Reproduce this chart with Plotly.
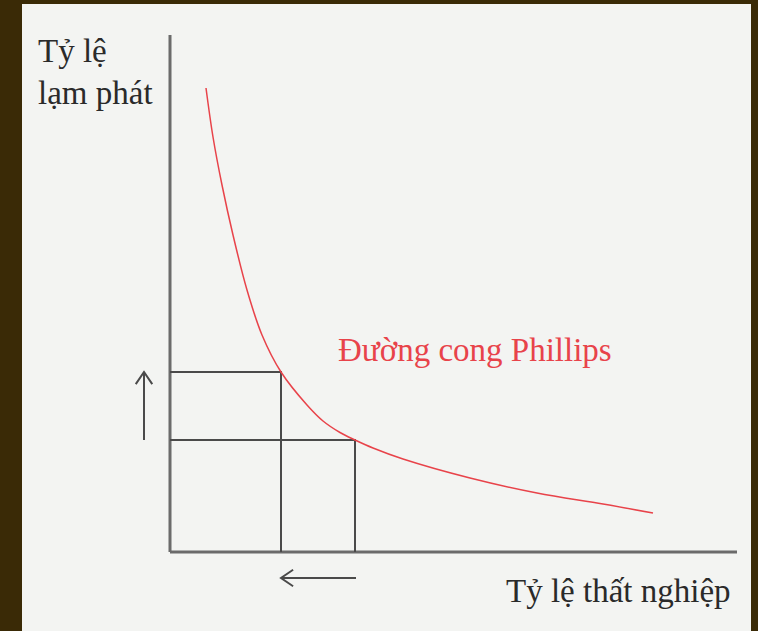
import plotly.graph_objects as go

# Phillips curve points (unemployment, inflation)
unemp = [0.72, 0.86, 1.04, 1.26, 1.54, 1.84, 2.22, 2.74, 3.06, 3.40, 3.70, 4.06, 4.66, 6.00, 7.34, 8.66, 9.66]
inflation = [9.28, 8.30, 7.34, 6.34, 5.24, 4.34, 3.60, 2.94, 2.62, 2.39, 2.24, 2.08, 1.86, 1.48, 1.18, 0.96, 0.78]

# the two marked points on the curve
mark_x = [2.22, 3.70]
mark_y = [3.60, 2.24]

# axis extents
x_axis_end = 11.34
y_axis_end = 10.34

# arrows: (start, end) of each shaft
up_arrow = dict(x=-0.52, y0=2.24, y1=3.60)
left_arrow = dict(y=-0.52, x0=3.72, x1=2.22)

axis_col = "#6b6b6b"
box_col = "#4a4a4a"
red = "#e8434a"
head = 0.22

fig = go.Figure()

# axes
fig.add_trace(go.Scatter(x=[0, x_axis_end], y=[0, 0], mode="lines",
                         line=dict(color=axis_col, width=3), hoverinfo="skip"))
fig.add_trace(go.Scatter(x=[0, 0], y=[0, y_axis_end], mode="lines",
                         line=dict(color=axis_col, width=3), hoverinfo="skip"))

# guide boxes from each marked point to the axes
for mx, my in zip(mark_x, mark_y):
    fig.add_trace(go.Scatter(x=[0, mx, mx], y=[my, my, 0], mode="lines",
                             line=dict(color=box_col, width=2), hoverinfo="skip"))

# curve
fig.add_trace(go.Scatter(x=unemp, y=inflation, mode="lines",
                         line=dict(color=red, width=1.5, shape="spline", smoothing=1.0),
                         hoverinfo="skip"))

# up arrow
ux = up_arrow["x"]
uy0, uy1 = up_arrow["y0"], up_arrow["y1"]
fig.add_trace(go.Scatter(x=[ux, ux, None, ux - head * 0.75, ux, ux + head * 0.75],
                         y=[uy0, uy1, None, uy1 - head * 1.1, uy1, uy1 - head * 1.1],
                         mode="lines", line=dict(color=box_col, width=2), hoverinfo="skip"))

# left arrow
ly = left_arrow["y"]
lx0, lx1 = left_arrow["x0"], left_arrow["x1"]
fig.add_trace(go.Scatter(x=[lx0, lx1, None, lx1 + head * 1.1, lx1, lx1 + head * 1.1],
                         y=[ly, ly, None, ly + head * 0.75, ly, ly - head * 0.75],
                         mode="lines", line=dict(color=box_col, width=2), hoverinfo="skip"))

serif = "Liberation Serif"
fig.add_annotation(x=-2.68, y=10.02, xanchor="left", yanchor="middle", showarrow=False,
                   text="Tỷ lệ", font=dict(family=serif, size=33, color="#2a2a2a"))
fig.add_annotation(x=-2.68, y=9.18, xanchor="left", yanchor="middle", showarrow=False,
                   text="lạm phát", font=dict(family=serif, size=33, color="#2a2a2a"))
fig.add_annotation(x=6.1, y=4.04, xanchor="center", yanchor="middle", showarrow=False,
                   text="Đường cong Phillips", font=dict(family=serif, size=33, color=red))
fig.add_annotation(x=11.26, y=-0.78, xanchor="right", yanchor="middle", showarrow=False,
                   text="Tỷ lệ thất nghiệp", font=dict(family=serif, size=33, color="#2a2a2a"))

fig.update_layout(
    width=758, height=631,
    margin=dict(l=22, r=7, t=4, b=0),
    paper_bgcolor="#3a2a06",
    plot_bgcolor="#f3f4f2",
    showlegend=False,
    xaxis=dict(range=[-2.96, 11.62], visible=False, fixedrange=True),
    yaxis=dict(range=[-1.58, 10.96], visible=False, fixedrange=True),
)

fig.write_html("out.html", config={"displayModeBar": False},
               post_script="document.body.style.margin='0';")
